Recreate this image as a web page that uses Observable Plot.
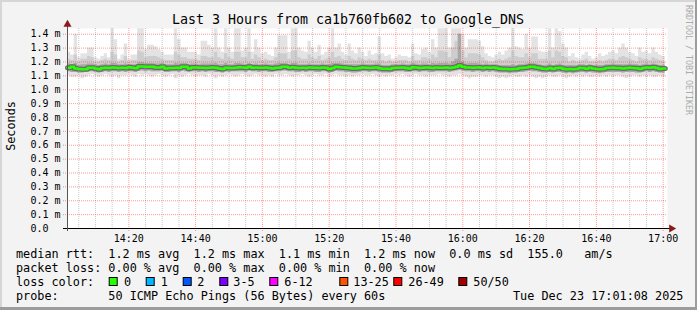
<!DOCTYPE html>
<html><head><meta charset="utf-8">
<script src="https://cdn.jsdelivr.net/npm/d3@7"></script>
<script src="https://cdn.jsdelivr.net/npm/@observablehq/plot@0.6"></script>
<style>
html,body{margin:0;padding:0;background:#f3f3f3;}
#chart svg{display:block;}
</style></head><body>
<div id="chart"></div>
<script>
// ---- data (milliseconds) : one column per minute starting at the left edge ----
const maxV = [
1.27,1.25,1.40,1.23,1.26,1.26,1.30,1.30,1.23,1.22,
1.24,1.26,1.23,1.44,1.36,1.22,1.25,1.33,1.22,1.25,
1.25,1.44,1.44,1.29,1.32,1.32,1.31,1.29,1.27,1.25,
1.25,1.25,1.44,1.36,1.30,1.30,1.27,1.27,1.27,1.25,
1.35,1.35,1.32,1.30,1.44,1.30,1.27,1.44,1.30,1.27,
1.44,1.44,1.28,1.30,1.44,1.27,1.36,1.30,1.26,1.27,
1.25,1.24,1.30,1.39,1.39,1.39,1.27,1.44,1.44,1.30,
1.28,1.27,1.35,1.30,1.27,1.32,1.25,1.27,1.30,1.44,
1.30,1.33,1.27,1.25,1.33,1.28,1.26,1.30,1.27,1.24,
1.28,1.25,1.26,1.38,1.26,1.24,1.25,1.22,1.23,1.25,
1.24,1.24,1.23,1.33,1.26,1.25,1.29,1.30,1.27,1.36,
1.30,1.44,1.44,1.44,1.30,1.44,1.44,1.44,1.40,1.30,
1.36,1.36,1.36,1.35,1.31,1.26,1.24,1.23,1.25,1.27,
1.25,1.28,1.30,1.44,1.31,1.30,1.29,1.40,1.30,1.38,
1.38,1.28,1.27,1.27,1.44,1.30,1.44,1.42,1.33,1.30,
1.24,1.26,1.23,1.22,1.25,1.27,1.24,1.22,1.23,1.26,
1.24,1.25,1.27,1.28,1.26,1.30,1.33,1.30,1.27,1.26,
1.24,1.30,1.27,1.28,1.26,1.30,1.27,1.25,1.24
];
const hi2V = [
1.22,1.21,1.25,1.20,1.22,1.22,1.24,1.23,1.20,1.20,
1.21,1.22,1.21,1.27,1.25,1.20,1.21,1.24,1.20,1.21,
1.21,1.28,1.27,1.23,1.24,1.24,1.24,1.23,1.22,1.21,
1.21,1.21,1.27,1.25,1.23,1.23,1.22,1.22,1.22,1.21,
1.24,1.24,1.23,1.23,1.27,1.23,1.22,1.26,1.23,1.22,
1.27,1.27,1.23,1.23,1.27,1.22,1.25,1.23,1.21,1.22,
1.21,1.21,1.23,1.26,1.26,1.26,1.22,1.28,1.28,1.23,
1.22,1.22,1.25,1.23,1.22,1.24,1.21,1.22,1.23,1.27,
1.23,1.24,1.22,1.21,1.24,1.22,1.21,1.23,1.22,1.21,
1.22,1.21,1.21,1.25,1.21,1.20,1.21,1.20,1.20,1.21,
1.21,1.21,1.20,1.24,1.21,1.21,1.23,1.23,1.22,1.25,
1.23,1.28,1.28,1.27,1.23,1.30,1.35,1.40,1.28,1.23,
1.26,1.26,1.26,1.25,1.23,1.21,1.20,1.20,1.21,1.22,
1.21,1.22,1.23,1.28,1.24,1.23,1.23,1.26,1.23,1.26,
1.26,1.22,1.22,1.22,1.28,1.23,1.28,1.27,1.24,1.23,
1.20,1.21,1.20,1.20,1.21,1.22,1.20,1.20,1.20,1.21,
1.20,1.21,1.22,1.22,1.21,1.23,1.24,1.23,1.22,1.21,
1.20,1.23,1.22,1.22,1.21,1.23,1.22,1.21,1.20
];
const hi3V = [
1.185,1.18,1.19,1.175,1.18,1.18,1.185,1.185,1.18,1.175,
1.18,1.185,1.18,1.19,1.19,1.18,1.18,1.185,1.18,1.18,
1.18,1.195,1.195,1.19,1.19,1.19,1.185,1.185,1.19,1.18,
1.18,1.18,1.19,1.185,1.19,1.19,1.18,1.185,1.185,1.18,
1.185,1.185,1.185,1.185,1.19,1.18,1.18,1.19,1.18,1.18,
1.19,1.19,1.185,1.18,1.19,1.18,1.185,1.18,1.18,1.185,
1.18,1.18,1.185,1.19,1.19,1.19,1.18,1.19,1.19,1.18,
1.18,1.18,1.185,1.18,1.18,1.18,1.185,1.18,1.18,1.19,
1.19,1.19,1.185,1.18,1.18,1.18,1.18,1.18,1.185,1.18,
1.18,1.18,1.185,1.185,1.175,1.175,1.175,1.18,1.18,1.18,
1.185,1.18,1.18,1.19,1.185,1.18,1.185,1.185,1.18,1.19,
1.185,1.19,1.19,1.19,1.185,1.20,1.22,1.40,1.20,1.185,
1.19,1.19,1.19,1.185,1.18,1.185,1.18,1.18,1.18,1.175,
1.175,1.175,1.175,1.18,1.175,1.18,1.18,1.185,1.19,1.19,
1.185,1.18,1.175,1.175,1.185,1.175,1.18,1.185,1.175,1.175,
1.175,1.175,1.175,1.18,1.18,1.175,1.18,1.175,1.175,1.175,
1.175,1.18,1.18,1.185,1.18,1.18,1.18,1.18,1.185,1.18,
1.18,1.175,1.18,1.185,1.18,1.185,1.18,1.175,1.175
];
const medianV = [
1.158,1.166,1.153,1.150,1.148,1.148,1.158,1.158,1.153,1.148,
1.156,1.158,1.156,1.161,1.158,1.156,1.158,1.156,1.162,1.158,
1.155,1.168,1.168,1.165,1.165,1.165,1.160,1.160,1.166,1.153,
1.156,1.156,1.158,1.156,1.165,1.165,1.153,1.160,1.160,1.158,
1.158,1.156,1.158,1.160,1.158,1.153,1.150,1.158,1.156,1.156,
1.158,1.163,1.160,1.158,1.166,1.158,1.160,1.158,1.158,1.160,
1.156,1.153,1.158,1.158,1.165,1.165,1.158,1.163,1.158,1.156,
1.158,1.156,1.160,1.158,1.158,1.156,1.160,1.158,1.150,1.156,
1.166,1.163,1.160,1.158,1.156,1.153,1.153,1.156,1.160,1.158,
1.156,1.158,1.160,1.155,1.152,1.152,1.150,1.156,1.158,1.158,
1.160,1.156,1.153,1.163,1.160,1.156,1.158,1.160,1.158,1.156,
1.160,1.158,1.158,1.160,1.156,1.160,1.165,1.175,1.165,1.160,
1.160,1.158,1.160,1.160,1.156,1.160,1.158,1.160,1.156,1.152,
1.150,1.150,1.148,1.150,1.150,1.156,1.158,1.160,1.166,1.166,
1.160,1.156,1.152,1.150,1.156,1.150,1.156,1.158,1.152,1.148,
1.150,1.148,1.150,1.156,1.156,1.152,1.158,1.153,1.150,1.148,
1.150,1.156,1.158,1.158,1.156,1.156,1.153,1.156,1.158,1.156,
1.155,1.150,1.156,1.160,1.158,1.162,1.156,1.150,1.153
];
const lo2V = [
1.13,1.125,1.125,1.12,1.12,1.125,1.13,1.13,1.125,1.12,
1.125,1.13,1.125,1.13,1.13,1.125,1.13,1.125,1.13,1.13,
1.125,1.135,1.135,1.13,1.135,1.13,1.13,1.13,1.135,1.125,
1.125,1.13,1.13,1.125,1.135,1.13,1.125,1.13,1.13,1.125,
1.13,1.125,1.13,1.13,1.125,1.125,1.12,1.13,1.125,1.13,
1.13,1.13,1.13,1.125,1.135,1.13,1.13,1.125,1.13,1.13,
1.125,1.125,1.13,1.13,1.135,1.135,1.13,1.13,1.125,1.125,
1.13,1.125,1.13,1.13,1.125,1.125,1.13,1.13,1.12,1.125,
1.135,1.13,1.13,1.125,1.125,1.12,1.12,1.125,1.13,1.13,
1.125,1.13,1.13,1.125,1.12,1.12,1.12,1.125,1.13,1.13,
1.13,1.125,1.125,1.13,1.13,1.125,1.13,1.13,1.125,1.125,
1.13,1.13,1.13,1.13,1.125,1.13,1.135,1.14,1.135,1.13,
1.13,1.125,1.13,1.13,1.125,1.13,1.125,1.13,1.125,1.12,
1.12,1.12,1.115,1.12,1.12,1.125,1.125,1.13,1.135,1.13,
1.13,1.125,1.12,1.12,1.125,1.12,1.125,1.125,1.12,1.115,
1.12,1.115,1.12,1.125,1.125,1.12,1.125,1.12,1.12,1.115,
1.12,1.125,1.125,1.125,1.125,1.125,1.12,1.125,1.125,1.125,
1.12,1.12,1.125,1.13,1.125,1.13,1.125,1.12,1.12
];
const minV = [
1.10,1.09,1.09,1.10,1.08,1.09,1.10,1.11,1.10,1.09,
1.10,1.11,1.10,1.09,1.10,1.08,1.10,1.10,1.11,1.10,
1.09,1.11,1.10,1.11,1.10,1.09,1.10,1.11,1.10,1.09,
1.10,1.11,1.08,1.10,1.09,1.10,1.11,1.10,1.09,1.10,
1.10,1.09,1.11,1.10,1.08,1.10,1.09,1.10,1.11,1.10,
1.09,1.10,1.11,1.10,1.09,1.10,1.11,1.10,1.10,1.09,
1.10,1.09,1.11,1.10,1.10,1.11,1.10,1.09,1.10,1.10,
1.11,1.10,1.09,1.10,1.11,1.10,1.10,1.11,1.09,1.10,
1.11,1.10,1.10,1.09,1.10,1.09,1.10,1.10,1.11,1.10,
1.10,1.11,1.10,1.09,1.10,1.09,1.10,1.10,1.11,1.10,
1.11,1.10,1.09,1.10,1.11,1.10,1.10,1.09,1.10,1.10,
1.10,1.11,1.10,1.10,1.09,1.10,1.10,1.11,1.10,1.09,
1.08,1.09,1.09,1.10,1.10,1.09,1.10,1.10,1.09,1.08,
1.09,1.08,1.09,1.10,1.09,1.09,1.10,1.09,1.10,1.09,
1.08,1.09,1.08,1.09,1.10,1.09,1.09,1.10,1.09,1.08,
1.09,1.10,1.09,1.10,1.09,1.10,1.09,1.09,1.10,1.09,
1.10,1.09,1.10,1.09,1.10,1.10,1.09,1.08,1.09,1.10,
1.10,1.09,1.10,1.09,1.10,1.09,1.09,1.10,1.09
];

// ---- ticks and legend texts ----
const yTickValues = [0,0.1,0.2,0.3,0.4,0.5,0.6,0.7,0.8,0.9,1.0,1.1,1.2,1.3,1.4];
const yTickLabels = ["0.0","0.1 m","0.2 m","0.3 m","0.4 m","0.5 m","0.6 m","0.7 m","0.8 m","0.9 m","1.0 m","1.1 m","1.2 m","1.3 m","1.4 m"];
const xTickLabels = ["14:20","14:40","15:00","15:20","15:40","16:00","16:20","16:40","17:00"];
const lossLabels = ["0","1","2","3-5","6-12","13-25","26-49","50/50"];
const lossColors = ["#26ff00","#00b8ff","#0059ff","#7e00ff","#ff00ff","#ff5500","#ff0000","#a10000"];
const titleText = "Last 3 Hours from ca1b760fb602 to Google_DNS";
const legendLines = [
  "median rtt:  1.2 ms avg  1.2 ms max  1.1 ms min  1.2 ms now  0.0 ms sd  155.0   am/s",
  "packet loss: 0.00 % avg  0.00 % max  0.00 % min  0.00 % now",
  "loss color:",
  "probe:       50 ICMP Echo Pings (56 Bytes) every 60s"
];
const dateText = "Tue Dec 23 17:01:08 2025";
const creditText = "RRDTOOL / TOBI OETIKER";

// ---- time ----
const tStart = Date.UTC(2025, 11, 23, 14, 1, 38);
const tEnd = Date.UTC(2025, 11, 23, 17, 1, 18);
const MIN = 60000;
const rows = medianV.map((m, i) => ({
  t: new Date(tStart + i * MIN), med: m, min: minV[i], max: maxV[i], lo2: lo2V[i], hi2: hi2V[i], hi3: hi3V[i]
}));
rows.push({...rows[rows.length - 1], t: new Date(tStart + rows.length * MIN)});

const majorTicks = xTickLabels.map(s => { const [h, m] = s.split(":").map(Number); return new Date(Date.UTC(2025, 11, 23, h, m)); });
const minorTicks = d3.utcMinute.every(5).range(new Date(tStart), new Date(tEnd)).filter(d => d.getUTCMinutes() % 20 !== 0);

const W = 697, H = 310;
const mono = "DejaVu Sans Mono";
const ymax = 1.4414;

const plot = Plot.plot({
  width: W, height: H,
  marginTop: 28, marginBottom: 82, marginLeft: 67, marginRight: 30,
  style: {background: "#f3f3f3", fontFamily: mono, fontSize: "10px", color: "#000", overflow: "visible"},
  x: {type: "utc", domain: [new Date(tStart), new Date(tEnd)], axis: null},
  y: {domain: [0, ymax], axis: null},
  marks: [
    Plot.frame({fill: "#ffffff", stroke: null}),
    Plot.areaY(rows, {x: "t", y1: "min", y2: "max", curve: "step-after", fill: "#e3e3e3"}),
    Plot.areaY(rows, {x: "t", y1: "lo2", y2: "hi2", curve: "step-after", fill: "#cdcdcd"}),
    Plot.areaY(rows, {x: "t", y1: "lo2", y2: "hi3", curve: "step-after", fill: "#a8a8a8"}),
    Plot.line(rows, {x: "t", y: "med", curve: "step-after", stroke: "#6a6a6a", strokeWidth: 5}),
    Plot.ruleX(minorTicks, {stroke: "#9a9a9a", strokeOpacity: 0.55, strokeDasharray: "1,1"}),
    Plot.ruleX(majorTicks, {stroke: "#ff0000", strokeOpacity: 0.4, strokeDasharray: "1,1", insetBottom: -3}),
    Plot.ruleY(yTickValues.slice(1), {stroke: "#ff0000", strokeOpacity: 0.4, strokeDasharray: "1,1", insetLeft: -4}),
    Plot.line(rows, {x: "t", y: "med", curve: "step-after", stroke: "#26ff00", strokeWidth: 2.5}),
    Plot.ruleY([0], {stroke: "#000", insetLeft: -4, insetRight: -3}),
    Plot.ruleX([new Date(tStart)], {stroke: "#555", insetTop: -3, insetBottom: -3}),
    Plot.dot([0], {x: () => new Date(tStart), y: () => ymax, dy: -4, symbol: "triangle", r: 3, fill: "#8b1a1a", stroke: null}),
    Plot.dot([0], {x: () => new Date(tEnd), y: () => 0, dx: 4, symbol: "triangle", r: 3, rotate: 90, fill: "#8b1a1a", stroke: null}),
    Plot.text(yTickValues, {y: d => d, text: (d, i) => yTickLabels[i], frameAnchor: "left", dx: -37, textAnchor: "start", fontSize: 10, fill: "#000"}),
    Plot.text(majorTicks, {x: d => d, text: (d, i) => xTickLabels[i], frameAnchor: "bottom", lineAnchor: "top", dy: 6, fontSize: 10, fill: "#000"})
  ]
});

const svg = d3.select(plot);
function txt(x, y, s, size, o = {}) {
  return svg.append("text").attr("x", x).attr("y", y)
    .attr("font-family", mono).attr("font-size", size).attr("fill", o.fill || "#000")
    .attr("text-anchor", o.anchor || "start")
    .attr("transform", o.transform || null)
    .style("white-space", "pre").text(s);
}
// frame edges
svg.append("rect").attr("x", 0).attr("y", 0).attr("width", W).attr("height", 2).attr("fill", "#d6d6d6");
svg.append("rect").attr("x", 0).attr("y", 0).attr("width", 2).attr("height", H).attr("fill", "#d6d6d6");
svg.append("rect").attr("x", W - 2).attr("y", 0).attr("width", 2).attr("height", H).attr("fill", "#9c9c9c");
svg.append("rect").attr("x", 0).attr("y", H - 3).attr("width", W).attr("height", 3).attr("fill", "#9c9c9c");

txt(348, 24, titleText, 13.3, {anchor: "middle"});
txt(0, 0, "Seconds", 11.8, {anchor: "middle", transform: "translate(14.5,126) rotate(-90)"});
txt(0, 0, creditText, 8.3, {fill: "#ababab", transform: "translate(685.5,5) rotate(90)"});

const baselines = [258, 272, 286, 300];
legendLines.forEach((s, i) => txt(16, baselines[i], s, 11.8));
txt(513, 300, dateText, 11.8);

const boxX = [108.7, 145.7, 182.7, 219.3, 269.3, 339.3, 393.3, 458.3];
const labX = [124, 160.7, 197.3, 233.3, 284.3, 353.3, 408.3, 473.3];
lossLabels.forEach((lab, i) => {
  svg.append("rect").attr("x", boxX[i] + 0.5).attr("y", 277.5).attr("width", 8).attr("height", 8)
    .attr("fill", lossColors[i]).attr("stroke", "#000").attr("stroke-width", 1);
  txt(labX[i], 286, lab, 11.8);
});

document.getElementById("chart").appendChild(plot);
</script>
</body></html>
